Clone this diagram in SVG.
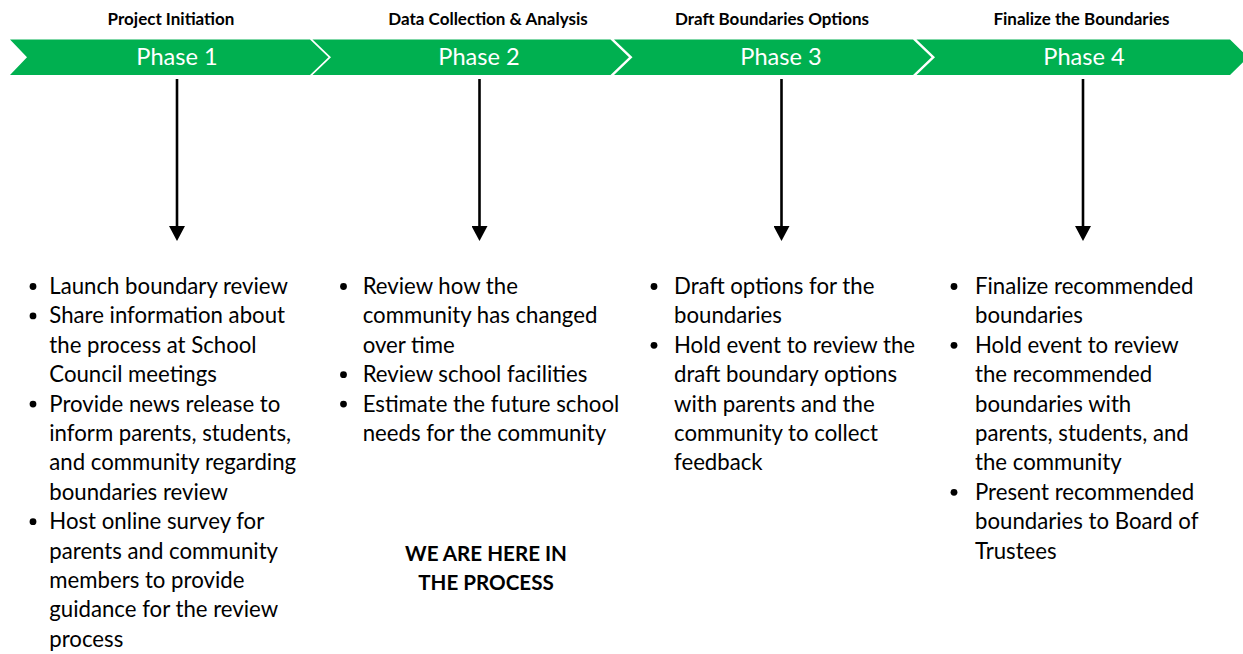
<svg xmlns="http://www.w3.org/2000/svg" width="1243" height="654" viewBox="0 0 1243 654">
<style>
.hdr{font-family:Lato,"Open Sans",sans-serif;font-weight:bold;font-size:17px;fill:#000;text-anchor:middle}
.ph{font-family:Lato,"Open Sans",sans-serif;font-size:23.6px;fill:#fff;text-anchor:middle}
.chev{fill:#00B050}
.body{font-family:Lato,"Open Sans",sans-serif;font-size:22.2px;fill:#000}
.here{font-family:Lato,"Open Sans",sans-serif;font-weight:bold;font-size:20.6px;fill:#000;text-anchor:middle}
.arr{stroke:#000;stroke-width:2.6;fill:none}
.dot{fill:#000}
</style>
<defs>
<marker id="ah" markerUnits="userSpaceOnUse" markerWidth="16" markerHeight="16" refX="7" refY="8" orient="auto">
<path d="M0,0 L15,8 L0,16 z" fill="#000"/>
</marker>
</defs>
<rect width="1243" height="654" fill="#fff"/>
<g id="phase1">
<text class="hdr" x="171" y="25">Project Initiation</text>
<polygon class="chev" points="10,39.5 310,39.5 328.5,57.25 310,75 10,75 27,57.25"/>
<text class="ph" x="177" y="65">Phase 1</text>
</g>
<g id="phase2">
<text class="hdr" x="488" y="25">Data Collection &amp; Analysis</text>
<polygon class="chev" points="312.5,39.5 610.5,39.5 629,57.25 610.5,75 312.5,75 331,57.25"/>
<text class="ph" x="479" y="65">Phase 2</text>
</g>
<g id="phase3">
<text class="hdr" x="772" y="25">Draft Boundaries Options</text>
<polygon class="chev" points="614,39.5 913,39.5 931.5,57.25 913,75 614,75 632.5,57.25"/>
<text class="ph" x="781" y="65">Phase 3</text>
</g>
<g id="phase4">
<text class="hdr" x="1081.5" y="25">Finalize the Boundaries</text>
<polygon class="chev" points="916.5,39.5 1230,39.5 1248,57.25 1230,75 916.5,75 935,57.25"/>
<text class="ph" x="1084" y="65">Phase 4</text>
</g>
<g id="connectors">
<line class="arr" x1="177" y1="79" x2="177" y2="233" marker-end="url(#ah)"/>
<line class="arr" x1="479.5" y1="79" x2="479.5" y2="233" marker-end="url(#ah)"/>
<line class="arr" x1="781.5" y1="79" x2="781.5" y2="233" marker-end="url(#ah)"/>
<line class="arr" x1="1083" y1="79" x2="1083" y2="233" marker-end="url(#ah)"/>
</g>
<g id="list1">
<circle class="dot" cx="33" cy="286.5" r="3.4"/>
<circle class="dot" cx="33" cy="315.9" r="3.4"/>
<circle class="dot" cx="33" cy="404.1" r="3.4"/>
<circle class="dot" cx="33" cy="521.7" r="3.4"/>
<text class="body">
<tspan x="49.3" y="294">Launch boundary review</tspan>
<tspan x="49.3" y="323.4">Share information about</tspan>
<tspan x="49.3" y="352.8">the process at School</tspan>
<tspan x="49.3" y="382.2">Council meetings</tspan>
<tspan x="49.3" y="411.6">Provide news release to</tspan>
<tspan x="49.3" y="441">inform parents, students,</tspan>
<tspan x="49.3" y="470.4">and community regarding</tspan>
<tspan x="49.3" y="499.8">boundaries review</tspan>
<tspan x="49.3" y="529.2">Host online survey for</tspan>
<tspan x="49.3" y="558.6">parents and community</tspan>
<tspan x="49.3" y="588">members to provide</tspan>
<tspan x="49.3" y="617.4">guidance for the review</tspan>
<tspan x="49.3" y="646.8">process</tspan>
</text>
</g>
<g id="list2">
<circle class="dot" cx="343.5" cy="286.5" r="3.4"/>
<circle class="dot" cx="343.5" cy="374.7" r="3.4"/>
<circle class="dot" cx="343.5" cy="404.1" r="3.4"/>
<text class="body">
<tspan x="362.7" y="294">Review how the</tspan>
<tspan x="362.7" y="323.4">community has changed</tspan>
<tspan x="362.7" y="352.8">over time</tspan>
<tspan x="362.7" y="382.2">Review school facilities</tspan>
<tspan x="362.7" y="411.6">Estimate the future school</tspan>
<tspan x="362.7" y="441">needs for the community</tspan>
</text>
</g>
<g id="here">
<text class="here"><tspan x="486" y="560.5">WE ARE HERE IN</tspan><tspan x="486" y="589.5">THE PROCESS</tspan></text>
</g>
<g id="list3">
<circle class="dot" cx="654" cy="286.5" r="3.4"/>
<circle class="dot" cx="654" cy="345.3" r="3.4"/>
<text class="body">
<tspan x="674" y="294">Draft options for the</tspan>
<tspan x="674" y="323.4">boundaries</tspan>
<tspan x="674" y="352.8">Hold event to review the</tspan>
<tspan x="674" y="382.2">draft boundary options</tspan>
<tspan x="674" y="411.6">with parents and the</tspan>
<tspan x="674" y="441">community to collect</tspan>
<tspan x="674" y="470.4">feedback</tspan>
</text>
</g>
<g id="list4">
<circle class="dot" cx="954" cy="286.5" r="3.4"/>
<circle class="dot" cx="954" cy="345.3" r="3.4"/>
<circle class="dot" cx="954" cy="492.3" r="3.4"/>
<text class="body">
<tspan x="975" y="294">Finalize recommended</tspan>
<tspan x="975" y="323.4">boundaries</tspan>
<tspan x="975" y="352.8">Hold event to review</tspan>
<tspan x="975" y="382.2">the recommended</tspan>
<tspan x="975" y="411.6">boundaries with</tspan>
<tspan x="975" y="441">parents, students, and</tspan>
<tspan x="975" y="470.4">the community</tspan>
<tspan x="975" y="499.8">Present recommended</tspan>
<tspan x="975" y="529.2">boundaries to Board of</tspan>
<tspan x="975" y="558.6">Trustees</tspan>
</text>
</g>
</svg>
